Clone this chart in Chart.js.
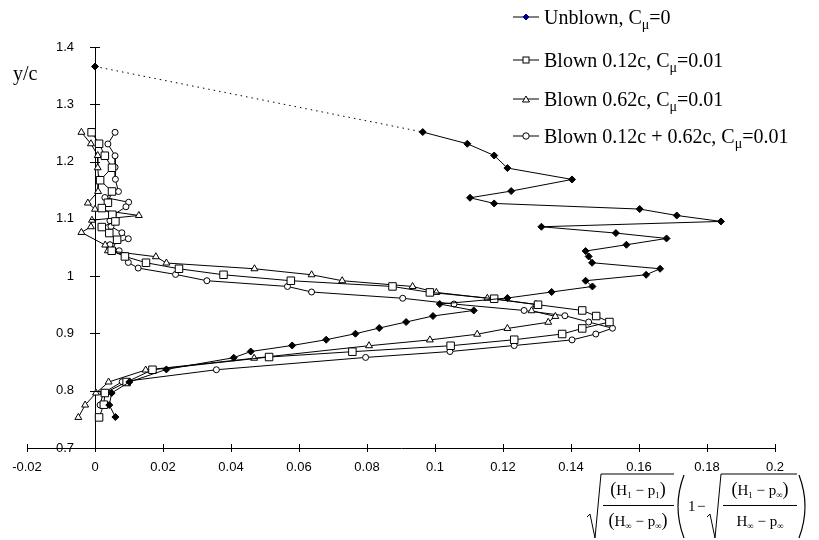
<!DOCTYPE html>
<html>
<head>
<meta charset="utf-8">
<script src="https://cdn.jsdelivr.net/npm/chart.js@4"></script>
<style>
  html, body { margin: 0; padding: 0; background: #fff; }
  #wrap { position: relative; width: 819px; height: 540px; }
  #ylab { position: absolute; left: 13px; top: 63px; font: 20px 'Liberation Serif', 'Times New Roman', serif; line-height: 20px; }
  .lg { position: absolute; left: 513px; height: 24px; display: flex; align-items: center;
        font: 20px 'Liberation Serif', 'Times New Roman', serif; white-space: nowrap; }
  .lg svg { margin-right: 5px; }
  .lg sub { font-size: 14px; vertical-align: -5px; line-height: 0; }
  #xlab { position: absolute; left: 586px; top: 473px; }
  #xlab text { font-family: 'Liberation Serif', 'Times New Roman', serif; }
</style>
</head>
<body>
<div id="wrap">
  <canvas id="chart" width="819" height="540"></canvas>
  <div id="ylab">y/c</div>

  <div class="lg" style="top:5px">
    <svg width="26" height="12"><line x1="0" y1="6" x2="26" y2="6" stroke="#000"/><path d="M13 3 L16 6 L13 9 L10 6 Z" fill="#00008b" stroke="#00008b"/></svg>
    <span>Unblown, C<sub>μ</sub>=0</span>
  </div>
  <div class="lg" style="top:48px">
    <svg width="26" height="12"><line x1="0" y1="6" x2="26" y2="6" stroke="#000"/><rect x="10" y="3" width="6" height="6" fill="#fff" stroke="#000"/></svg>
    <span>Blown 0.12c, C<sub>μ</sub>=0.01</span>
  </div>
  <div class="lg" style="top:87px">
    <svg width="26" height="12"><line x1="0" y1="6" x2="26" y2="6" stroke="#000"/><path d="M13 3 L16.5 9 L9.5 9 Z" fill="#fff" stroke="#000"/></svg>
    <span>Blown 0.62c, C<sub>μ</sub>=0.01</span>
  </div>
  <div class="lg" style="top:124px">
    <svg width="26" height="12"><line x1="0" y1="6" x2="26" y2="6" stroke="#000"/><circle cx="13" cy="6" r="3.2" fill="#fff" stroke="#000"/></svg>
    <span>Blown 0.12c + 0.62c, C<sub>μ</sub>=0.01</span>
  </div>

  <svg id="xlab" width="226" height="67" font-size="15">
    <polyline points="1,44 4,41 9,65 15,1 88,1" fill="none" stroke="#000"/>
    <text x="52" y="22" text-anchor="middle"><tspan font-size="18">(</tspan>H<tspan font-size="9" dy="3">1</tspan><tspan dy="-3"> − p</tspan><tspan font-size="9" dy="3">1</tspan><tspan dy="-3" font-size="18">)</tspan></text>
    <line x1="17" y1="32.5" x2="88" y2="32.5" stroke="#000"/>
    <text x="52" y="53" text-anchor="middle"><tspan font-size="18">(</tspan>H<tspan font-size="9" dy="3">∞</tspan><tspan dy="-3"> − p</tspan><tspan font-size="9" dy="3">∞</tspan><tspan dy="-3" font-size="18">)</tspan></text>
    <path d="M98,2 Q86,33.5 98,65" fill="none" stroke="#000" stroke-width="1.2"/>
    <text x="102" y="38">1</text>
    <text x="111" y="38">−</text>
    <polyline points="121,44 124,41 129,65 135,1 211,1" fill="none" stroke="#000"/>
    <text x="174" y="22" text-anchor="middle"><tspan font-size="18">(</tspan>H<tspan font-size="9" dy="3">1</tspan><tspan dy="-3"> − p</tspan><tspan font-size="9" dy="3">∞</tspan><tspan dy="-3" font-size="18">)</tspan></text>
    <line x1="137" y1="32.5" x2="211" y2="32.5" stroke="#000"/>
    <text x="174" y="53" text-anchor="middle">H<tspan font-size="9" dy="3">∞</tspan><tspan dy="-3"> − p</tspan><tspan font-size="9" dy="3">∞</tspan></text>
    <path d="M213,2 Q225,33.5 213,65" fill="none" stroke="#000" stroke-width="1.2"/>
  </svg>
</div>

<script>
// axis ticks
const xTicks = [-0.02, 0, 0.02, 0.04, 0.06, 0.08, 0.1, 0.12, 0.14, 0.16, 0.18, 0.2];
const yTicks = [0.7, 0.8, 0.9, 1, 1.1, 1.2, 1.3, 1.4];

// Unblown, Cmu=0
const unblownX = [0, 0.0964, 0.1095, 0.1174, 0.1213, 0.1403, 0.1224, 0.1103, 0.1174, 0.1602,
  0.1711, 0.1841, 0.1313, 0.1532, 0.1681, 0.1563, 0.1443, 0.1452, 0.1462, 0.1662,
  0.1621, 0.1443, 0.1463, 0.1343, 0.1213, 0.1014, 0.1114, 0.0994, 0.0915, 0.0836,
  0.0766, 0.068, 0.058, 0.0458, 0.0408, 0.0210, 0.0101, 0.0049, 0.0042, 0.0060];
const unblownY = [1.366, 1.2515, 1.2311, 1.2106, 1.1887, 1.1688, 1.1485, 1.1368, 1.1269, 1.1171,
  1.1059, 1.0955, 1.0862, 1.0752, 1.0658, 1.0548, 1.0438, 1.0344, 1.0234, 1.0129,
  1.0024, 0.9920, 0.9820, 0.9723, 0.9618, 0.9513, 0.9401, 0.9304, 0.9199, 0.9094,
  0.8995, 0.889, 0.879, 0.8684, 0.8576, 0.8372, 0.8152, 0.7960, 0.7750, 0.7541];

// Blown 0.12c
const blown12X = [-0.0010, 0.0012, 0.0029, 0.0050, 0.0015, 0.0050, 0.0038, 0.0020, 0.0051, 0.0060,
  0.0020, 0.0042, 0.0065, 0.0049, 0.0088, 0.0150, 0.0247, 0.0378, 0.0576, 0.0875,
  0.0985, 0.1174, 0.1303, 0.1433, 0.1474, 0.1513, 0.1433, 0.1374, 0.1233, 0.1046,
  0.0757, 0.0512, 0.0169, 0.0093, 0.0029, 0.0026, 0.0012];
const blown12Y = [1.2511, 1.2311, 1.2102, 1.1892, 1.1674, 1.1478, 1.1281, 1.1188, 1.1072, 1.0955,
  1.0857, 1.0752, 1.0635, 1.0443, 1.0344, 1.0234, 1.0129, 1.0024, 0.9920, 0.9820,
  0.9716, 0.9606, 0.9501, 0.9401, 0.9304, 0.9199, 0.9087, 0.8990, 0.8890, 0.8785,
  0.8681, 0.8588, 0.8366, 0.8152, 0.7960, 0.7756, 0.7534];

// Blown 0.62c
const blown62X = [-0.0040, -0.0012, 0.0008, 0.0008, 0.0011, 0.0009, -0.0021, 0.0000, 0.0129, -0.0009,
  -0.0012, -0.0040, 0.0030, 0.0038, 0.0179, 0.0210, 0.0469, 0.0637, 0.0727, 0.0934,
  0.1004, 0.1154, 0.1297, 0.1284, 0.1354, 0.1333, 0.1213, 0.1124, 0.0985, 0.0806,
  0.0468, 0.0149, 0.0040, 0.0003, -0.0029, -0.0049];
const blown62Y = [1.2511, 1.2311, 1.2106, 1.1892, 1.1688, 1.1478, 1.1276, 1.1168, 1.1059, 1.0976,
  1.0862, 1.0763, 1.0543, 1.0443, 1.0339, 1.0229, 1.0129, 1.0024, 0.9920, 0.9820,
  0.9716, 0.9614, 0.9506, 0.9396, 0.9297, 0.9195, 0.9087, 0.8986, 0.8887, 0.8785,
  0.8567, 0.8361, 0.8152, 0.7960, 0.7750, 0.7534];

// Blown 0.12c + 0.62c
const blownBothX = [0.0059, 0.0038, 0.0059, 0.0059, 0.0060, 0.0069, 0.0029, 0.0099, 0.0091, 0.0054,
  0.0044, 0.0047, 0.0079, 0.0098, 0.0044, 0.0071, 0.0098, 0.0127, 0.0237, 0.0329,
  0.0566, 0.0637, 0.0905, 0.1056, 0.1262, 0.1382, 0.1452, 0.1522, 0.1473, 0.1403,
  0.1233, 0.1044, 0.0796, 0.0357, 0.0080, 0.0024, 0.0015];
const blownBothY = [1.2511, 1.2307, 1.2101, 1.1901, 1.1691, 1.1478, 1.1373, 1.1290, 1.1211, 1.1068,
  1.0967, 1.0867, 1.0757, 1.0653, 1.0548, 1.0443, 1.0239, 1.0141, 1.0030, 0.9920,
  0.9820, 0.9723, 0.9614, 0.9513, 0.9401, 0.9309, 0.9199, 0.9091, 0.8990, 0.8887,
  0.8789, 0.8684, 0.8581, 0.8366, 0.8157, 0.7960, 0.7750];

const pts = (xs, ys) => xs.map((x, i) => ({ x, y: ys[i] }));

const Y_LABEL_GAP = 21;

// y axis sits at x=0; move its labels off the axis line
const shiftYLabels = {
    id: 'shiftYLabels',
    beforeDraw(chart) {
        const ax = chart.scales.x.getPixelForValue(0);
        chart.scales.y.getLabelItems().forEach(it => {
            it.options.translation[0] = ax - Y_LABEL_GAP;
            it.options.textAlign = 'right';
        });
    }
};

// ticks that cross the axis lines
const crossTicks = {
    id: 'crossTicks',
    afterDraw(chart) {
        const { ctx, scales: { x, y } } = chart;
        const ax = x.getPixelForValue(0);
        const ay = y.bottom;
        ctx.save();
        ctx.strokeStyle = '#000';
        ctx.lineWidth = 1;
        ctx.beginPath();
        x.ticks.forEach(t => {
            const px = Math.round(x.getPixelForValue(t.value)) + 0.5;
            ctx.moveTo(px, ay - 4);
            ctx.lineTo(px, ay + 4);
        });
        y.ticks.forEach(t => {
            const py = Math.round(y.getPixelForValue(t.value)) + 0.5;
            ctx.moveTo(ax - 5, py);
            ctx.lineTo(ax + 5, py);
        });
        ctx.stroke();
        ctx.restore();
    }
};

const common = {
    showLine: true,
    borderColor: '#000',
    borderWidth: 1,
    tension: 0,
    pointBorderColor: '#000',
    pointBorderWidth: 1,
    clip: false,
};

new Chart(document.getElementById('chart'), {
    type: 'scatter',
    data: {
        datasets: [
            {
                ...common,
                label: 'Unblown',
                data: pts(unblownX, unblownY),
                pointStyle: 'rectRot',
                pointRadius: 3.5,
                pointBackgroundColor: '#000',
                segment: {
                    borderDash: ctx => ctx.p0DataIndex === 0 ? [1.5, 4] : undefined,
                },
            },
            {
                ...common,
                label: 'Blown 0.12c',
                data: pts(blown12X, blown12Y),
                pointStyle: 'rect',
                pointRadius: 5.3,
                pointBackgroundColor: '#fff',
            },
            {
                ...common,
                label: 'Blown 0.62c',
                data: pts(blown62X, blown62Y),
                pointStyle: 'triangle',
                pointRadius: 4,
                pointBackgroundColor: '#fff',
            },
            {
                ...common,
                label: 'Blown 0.12c + 0.62c',
                data: pts(blownBothX, blownBothY),
                pointStyle: 'circle',
                pointRadius: 3,
                pointBackgroundColor: '#fff',
            },
        ]
    },
    options: {
        responsive: false,
        animation: false,
        devicePixelRatio: 1,
        layout: {
            padding: { left: 27, right: 44, top: 47, bottom: 0 }
        },
        plugins: {
            legend: { display: false },
            tooltip: { enabled: false },
        },
        scales: {
            x: {
                type: 'linear',
                min: -0.02,
                max: 0.2,
                afterFit: s => { s.height = 92; },
                afterBuildTicks: s => { s.ticks = xTicks.map(v => ({ value: v })); },
                grid: { display: false, drawTicks: false },
                border: { display: true, color: '#000', width: 1 },
                ticks: {
                    padding: 12,
                    color: '#000',
                    font: { family: "'Liberation Sans', Arial, sans-serif", size: 13 },
                    callback: v => String(+v.toFixed(2)),
                },
            },
            y: {
                type: 'linear',
                min: 0.7,
                max: 1.4,
                position: { x: 0 },
                afterBuildTicks: s => { s.ticks = yTicks.map(v => ({ value: v })); },
                grid: { display: false, drawTicks: false },
                border: { display: true, color: '#000', width: 1 },
                ticks: {
                    color: '#000',
                    font: { family: "'Liberation Sans', Arial, sans-serif", size: 13 },
                    callback: v => String(+v.toFixed(1)),
                },
            }
        }
    },
    plugins: [shiftYLabels, crossTicks]
});
</script>
</body>
</html>
